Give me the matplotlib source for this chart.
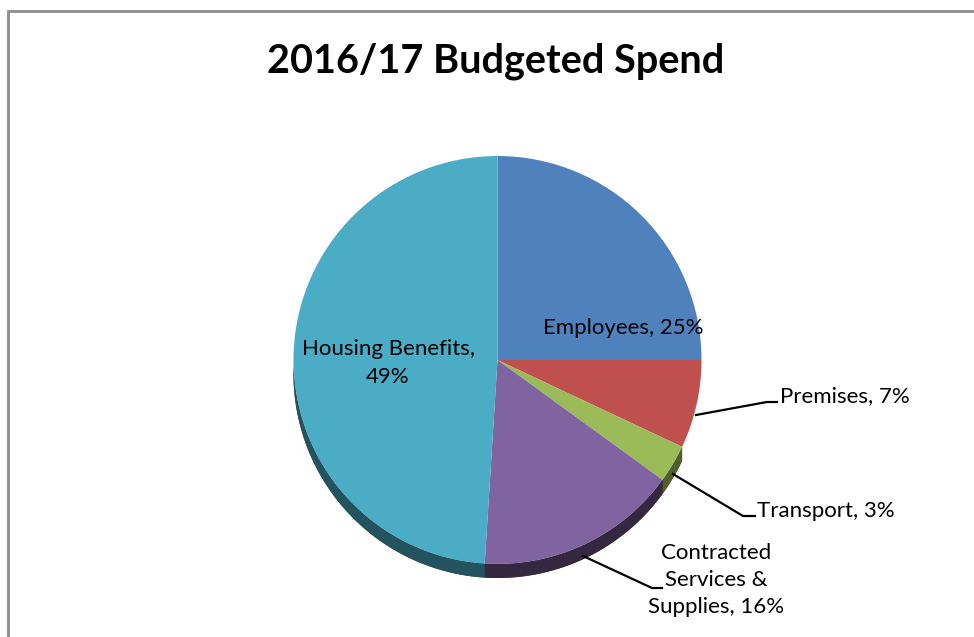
import numpy as np
import matplotlib.pyplot as plt
from matplotlib.patches import Rectangle

categories = ['Employees', 'Premises', 'Transport',
              'Contracted Services & Supplies', 'Housing Benefits']
shares = [25, 7, 3, 16, 49]
colors = ['#4F81BD', '#C0504D', '#9BBB59', '#8064A2', '#4BACC6']
side_colors = ['#2c4a6e', '#6e2b29', '#4f602c', '#33283f', '#22535e']

W, H = 974, 637
FONT = ['Lato', 'DejaVu Sans']


def py(y):
    # pixel rows are counted from the top
    return H - y


fig = plt.figure(figsize=(W / 100, H / 100), dpi=100)
ax = fig.add_axes([0, 0, 1, 1])

cx, cy, r, depth = 497.5, py(360), 204, 14

wedges, _ = ax.pie(shares, colors=colors, startangle=90, counterclock=False,
                   center=(cx, cy), radius=r,
                   wedgeprops=dict(linewidth=0, zorder=3))

# side wall of the tilted disc, visible on the lower half only
for w, sc in zip(wedges, side_colors):
    t1, t2 = sorted((w.theta1 % 360, w.theta2 % 360))
    if w.theta2 - w.theta1 >= 180:
        t1, t2 = w.theta1, w.theta2
    lo, hi = max(t1, 180), min(t2, 360)
    if hi <= lo:
        continue
    th = np.radians(np.linspace(lo, hi, 200))
    xs = cx + r * np.cos(th)
    ys = cy + r * np.sin(th)
    ax.fill(np.r_[xs, xs[::-1]], np.r_[ys, ys[::-1] - depth],
            color=sc, lw=0, zorder=2)

ax.set_xlim(0, W)
ax.set_ylim(0, H)
ax.set_aspect('equal')
ax.axis('off')

# chart frame
ax.add_patch(Rectangle((7.5, -20), W + 40, py(10.5) + 20, fill=False,
                       edgecolor='#8c8c8c', lw=2, zorder=1))

ax.text(496, py(61), '2016/17 Budgeted Spend', ha='center', va='center',
        fontsize=28.5, fontweight='bold', family=FONT)

lab = dict(fontsize=16, family=FONT, color='black', zorder=5)
ax.text(623, py(328), f'{categories[0]}, {shares[0]}%', ha='center',
        va='center', **lab)
ax.text(388, py(363), f'{categories[4]},\n{shares[4]}%', ha='center',
        va='center', linespacing=1.55, **lab)
ax.text(780, py(396), f'{categories[1]}, {shares[1]}%', ha='left',
        va='center', **lab)
ax.text(757, py(511), f'{categories[2]}, {shares[2]}%', ha='left',
        va='center', **lab)
ax.text(716, py(580), f'Contracted\nServices &\nSupplies, {shares[3]}%',
        ha='center', va='center', linespacing=1.45, **lab)

# leader lines
leaders = [
    [(696, 415), (767, 402), (777, 402)],
    [(673, 474), (743, 516), (755, 516)],
    [(583, 556), (652, 588), (662, 588)],
]
for pts in leaders:
    xs, ys = zip(*pts)
    ax.plot(xs, [py(v) for v in ys], color='black', lw=1.6, zorder=4)

fig.savefig('out.png', dpi=100)
